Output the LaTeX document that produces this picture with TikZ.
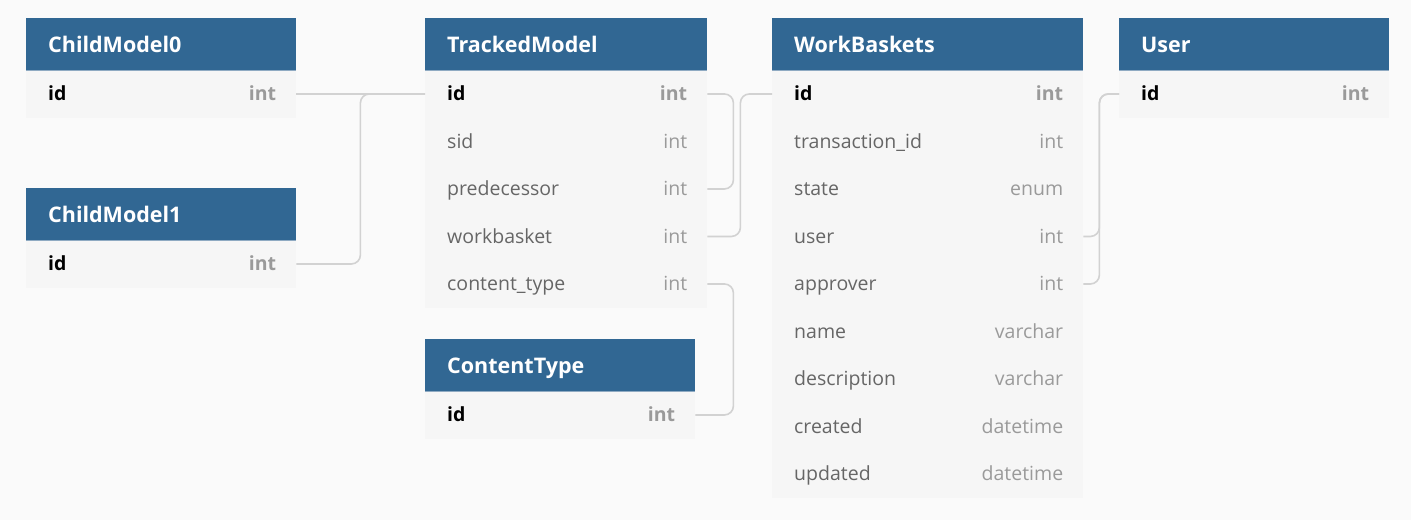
\documentclass[tikz,border=0pt]{standalone}
\usepackage{fontspec}
\setmainfont{Open Sans}
\usetikzlibrary{calc}
\definecolor{bgc}{HTML}{FAFAFA}
\definecolor{hdrc}{HTML}{316793}
\definecolor{hdrlc}{HTML}{8FAAC2}
\definecolor{rowc}{HTML}{F6F6F6}
\definecolor{namec}{HTML}{666666}
\definecolor{typec}{HTML}{9A9A9A}
\definecolor{linkc}{HTML}{D2D2D2}
\tikzset{
  hdr/.style={rectangle, fill=hdrc, inner sep=0pt, minimum height=52pt, anchor=north west},
  hdrtext/.style={inner sep=0pt, text=white, font=\fontsize{21.5}{24}\selectfont\bfseries},
  rowbox/.style={rectangle, fill=rowc, inner sep=0pt, minimum height=47.5pt, anchor=north west},
  fname/.style={inner sep=0pt, text=namec, font=\fontsize{19.5}{22}\selectfont},
  ftype/.style={inner sep=0pt, text=typec, font=\fontsize{19.5}{22}\selectfont},
  pkname/.style={inner sep=0pt, text=black, font=\fontsize{19.5}{22}\selectfont\bfseries},
  pktype/.style={inner sep=0pt, text=typec, font=\fontsize{19.5}{22}\selectfont\bfseries},
  link/.style={draw=linkc, line width=1.6pt, rounded corners=9pt},
  hdrline/.style={draw=hdrlc, line width=0.8pt}
}
\newcommand{\erhead}[5]{%
  \node[hdr, minimum width=#4pt] (#1) at (#2,#3) {};
  \draw[hdrline] (#1.south west) -- (#1.south east);
  \node[hdrtext, anchor=base west] (#1-t) at ($(#1.west)+(22,8)$) {#5};
}
\newcommand{\errow}[8]{%
  \node[rowbox, minimum width=#4pt] (#1) at (#2,#3) {};
  \node[#7, anchor=base west] (#1-n) at ($(#1.west)+(22,7)$) {#5};
  \node[#8, anchor=base east] (#1-ty) at ($(#1.east)+(-20,7)$) {#6};
}
\begin{document}
\begin{tikzpicture}[x=1pt,y=-1pt]
\fill[bgc] (0,0) rectangle (1411,520);
\useasboundingbox (0,0) rectangle (1411,520);
% ChildModel0
\errow{cmzid}{26}{70}{270}{id}{int}{pkname}{pktype}
\erhead{cmz}{26}{18}{270}{ChildModel0}
% ChildModel1
\errow{cmoid}{26}{240}{270}{id}{int}{pkname}{pktype}
\erhead{cmo}{26}{188}{270}{ChildModel1}
% TrackedModel
\errow{tmid}{425}{70}{282}{id}{int}{pkname}{pktype}
\errow{tmsid}{425}{117.5}{282}{sid}{int}{fname}{ftype}
\errow{tmpred}{425}{165}{282}{predecessor}{int}{fname}{ftype}
\errow{tmwb}{425}{212.5}{282}{workbasket}{int}{fname}{ftype}
\errow{tmct}{425}{260}{282}{content\_type}{int}{fname}{ftype}
\erhead{tm}{425}{18}{282}{TrackedModel}
% ContentType
\errow{ctid}{425}{391}{270}{id}{int}{pkname}{pktype}
\erhead{ct}{425}{339}{270}{ContentType}
% WorkBaskets
\errow{wbid}{772}{70}{311}{id}{int}{pkname}{pktype}
\errow{wbtr}{772}{117.5}{311}{transaction\_id}{int}{fname}{ftype}
\errow{wbst}{772}{165}{311}{state}{enum}{fname}{ftype}
\errow{wbus}{772}{212.5}{311}{user}{int}{fname}{ftype}
\errow{wbap}{772}{260}{311}{approver}{int}{fname}{ftype}
\errow{wbna}{772}{307.5}{311}{name}{varchar}{fname}{ftype}
\errow{wbde}{772}{355}{311}{description}{varchar}{fname}{ftype}
\errow{wbcr}{772}{402.5}{311}{created}{datetime}{fname}{ftype}
\errow{wbup}{772}{450}{311}{updated}{datetime}{fname}{ftype}
\erhead{wb}{772}{18}{311}{WorkBaskets}
% User
\errow{usid}{1119}{70}{270}{id}{int}{pkname}{pktype}
\erhead{us}{1119}{18}{270}{User}
% connectors
\draw[link] (cmzid.east) -- (tmid.west);
\draw[link] (cmoid.east) -- ++(64,0) |- (tmid.west);
\draw[link] (tmid.east) -- ++(26,0) |- (tmpred.east);
\draw[link] (tmwb.east) -- ++(33,0) |- (wbid.west);
\draw[link] (tmct.east) -- ++(26,0) |- (ctid.east);
\draw[link] (wbus.east) -- ++(16,0) |- (usid.west);
\draw[link] (wbap.east) -- ++(16,0) |- (usid.west);
\end{tikzpicture}
\end{document}
